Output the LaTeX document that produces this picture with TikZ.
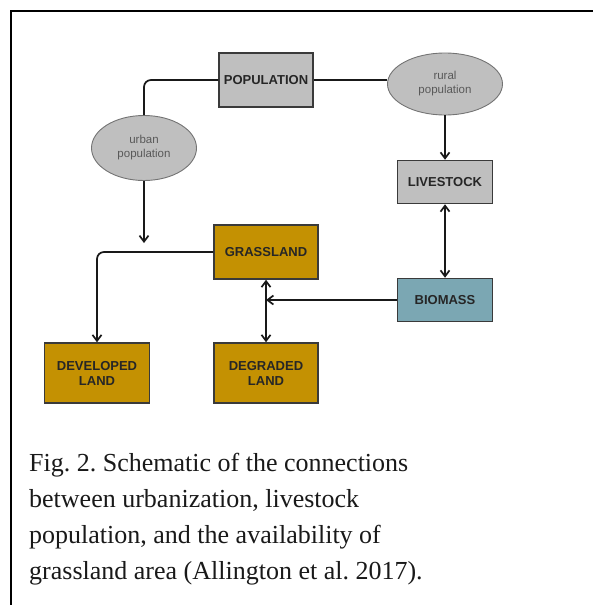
\documentclass[tikz,border=0pt]{standalone}
\usepackage{fontspec}
\setmainfont{Liberation Serif}
\setsansfont{Liberation Sans}
\usepackage{xcolor}
\usepackage{tikz}
\usetikzlibrary{shapes.geometric,arrows.meta}

\definecolor{boxgray}{HTML}{BFBFBF}
\definecolor{boxgold}{HTML}{C49102}
\definecolor{boxblue}{HTML}{7BA7B3}
\definecolor{edgegray}{HTML}{3A3A3A}

\begin{document}
\frenchspacing
\begin{tikzpicture}[x=1pt,y=-1pt,
    box/.style={draw=edgegray,line width=1.5pt,inner sep=0pt,align=center,
      font=\sffamily\bfseries\fontsize{13}{15}\selectfont,text=black!85},
    blob/.style={ellipse,draw=black!55,line width=0.9pt,fill=boxgray,inner sep=0pt,align=center,
      font=\sffamily\fontsize{11.5}{14}\selectfont,text=black!65},
    link/.style={line width=1.7pt,draw=black!90},
    >={Straight Barb[length=6pt,width=9pt]}]
                \useasboundingbox (0,0) rectangle (593,605);
                % frame
                \draw[line width=1.6pt] (11,605) -- (11,11) -- (593,11);
                
                % people
                \node[box,fill=boxgray,minimum width=94,minimum height=54] (pop) at (266,80) {POPULATION};
                \node[blob,minimum width=115,minimum height=62] (rural) at (445,84) {rural\\population};
                \node[blob,minimum width=105,minimum height=65] (urban) at (144,148) {urban\\population};
                \node[box,fill=boxgray,minimum width=95,minimum height=43] (live) at (445,182) {LIVESTOCK};
                \node[box,fill=boxblue,minimum width=95,minimum height=43] (bio) at (445,300) {BIOMASS};
                
                % land
                \node[box,fill=boxgold,minimum width=104,minimum height=54] (grass) at (266,252) {GRASSLAND};
                \node[box,fill=boxgold,minimum width=105,minimum height=60] (devl) at (97,373) {DEVELOPED\\LAND};
                \node[box,fill=boxgold,minimum width=104,minimum height=60] (degr) at (266,373) {DEGRADED\\LAND};
                \coordinate (uend) at (144,243);
                
                \draw[link,rounded corners=7pt] (pop.west) -| (urban.north);
                \draw[link] (pop.east) -- (pop.east -| rural.west);
                \draw[link,->] (urban.south) -- (uend);
                \draw[link,->] (rural.south) -- (live.north);
                \draw[link,<->] (live.south) -- (bio.north);
                \draw[link,->,rounded corners=7pt] (grass.west) -| (devl.north);
                \draw[link,<->] (grass.south) -- (degr.north);
                \draw[link,->] (bio.west) -- (bio.west -| grass.south);
                
                % caption
                \node[anchor=north west,inner sep=0pt,align=left,
                  font=\fontsize{26}{36}\selectfont,text=black!90] (cap) at (29,453)
                  {Fig. 2. Schematic of the connections\\between urbanization, livestock\\population, and the availability of\\grassland area (Allington et al. 2017).};
            \end{tikzpicture}
\end{document}
